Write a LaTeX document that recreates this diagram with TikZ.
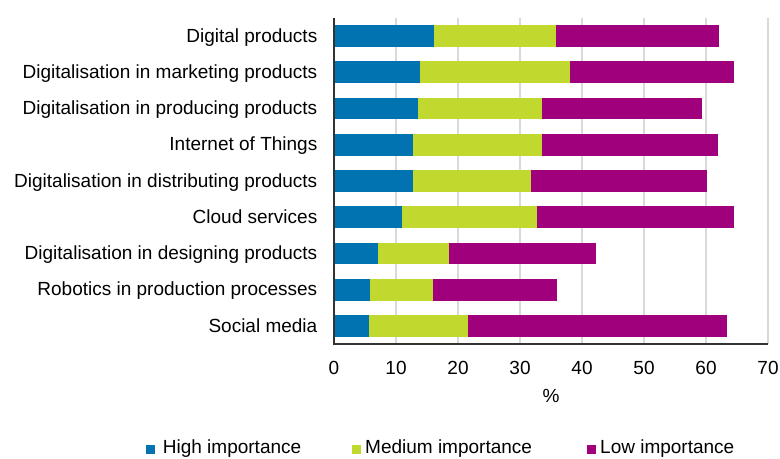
\documentclass[tikz,border=0pt]{standalone}
\usepackage{fontspec}
\setmainfont{Liberation Sans}
\usepackage{tikz}

\definecolor{highblue}{RGB}{0,115,176}
\definecolor{medgreen}{RGB}{193,216,47}
\definecolor{lowpurple}{RGB}{161,0,125}
\definecolor{gridgray}{RGB}{217,217,217}
\definecolor{axisgray}{RGB}{51,51,51}

\begin{document}
\begin{tikzpicture}[x=6.2pt,y=36.24pt,font=\fontsize{19}{23}\selectfont]
	\useasboundingbox (-53.871,-3.146) rectangle (71.935,9.492);
	% Grid %
	\foreach \x in {10,20,...,70}
		{\draw [gridgray,line width=1.5pt] (\x,0) -- (\x,9);}
	% Bars %
	\foreach \lab/\hi/\me/\lo [count=\i] in {Digital products\ /16.2/35.8/62.1,
		Digitalisation in marketing products/13.9/38.1/64.5,
		Digitalisation in producing products/13.6/33.5/59.4,
		Internet of Things/12.8/33.5/61.9,
		Digitalisation in distributing products/12.8/31.7/60.1,
		Cloud services/11.0/32.7/64.5,
		Digitalisation in designing products/7.1/18.5/42.3,
		Robotics in production processes/5.8/15.9/36.0,
		Social media/5.6/21.6/63.4}
		{\fill [highblue] (0,9.2-\i) rectangle (\hi,9.8-\i);
		 \fill [medgreen] (\hi,9.2-\i) rectangle (\me,9.8-\i);
		 \fill [lowpurple] (\me,9.2-\i) rectangle (\lo,9.8-\i);
		 \node (lab\i) [anchor=base east,inner sep=0] at (-2.66,9.326-\i) {\lab};}
	% Axes %
	\draw [axisgray,line width=1.5pt] (0,9) -- (0,0) -- (70,0);
	% Tick labels %
	\foreach \x in {0,10,...,70}
		{\node (tick\x) [anchor=base,inner sep=0] at (\x,-0.828) {\x};}
	\node (unit) [anchor=base,inner sep=0] at (35,-1.62) {\%};
	% Legend %
	\foreach \col/\name/\sx/\tx [count=\k] in {highblue/High importance/-30.32/-27.63,
		medgreen/Medium importance/2.85/5.0,
		lowpurple/Low importance/40.76/42.9}
		{\fill [\col] (\sx,-3.03) rectangle ++(1.45,0.25);
		 \node (leg\k) [anchor=base west,inner sep=0] at (\tx,-3.022) {\name};}
\end{tikzpicture}
\end{document}
